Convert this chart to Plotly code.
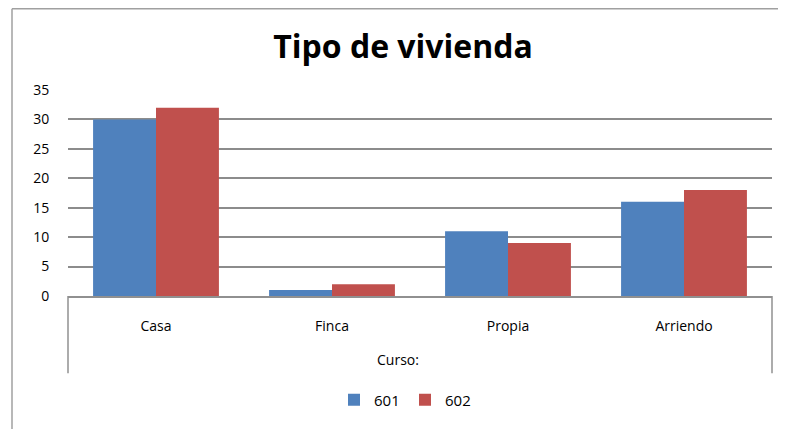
import plotly.graph_objects as go

categories = ["Casa", "Finca", "Propia", "Arriendo"]
serie_601 = [30, 1, 11, 16]
serie_602 = [32, 2, 9, 18]
series_names = ["601", "602"]
y_ticks = [0, 5, 10, 15, 20, 25, 30, 35]

OFF = 8  # page body margin
W, H = 786 - OFF, 429 - OFF
L, R, T, B = 68 - OFF, 14, 90 - OFF, 131
pw, ph = W - L - R, H - T - B

def px(x):
    return (x - OFF - L) / pw

def py(y):
    return (H - B - (y - OFF)) / ph

fig = go.Figure()
fig.add_trace(go.Bar(x=categories, y=serie_601, name=series_names[0],
                     marker=dict(color="#4F81BD", line=dict(width=0))))
fig.add_trace(go.Bar(x=categories, y=serie_602, name=series_names[1],
                     marker=dict(color="#C0504D", line=dict(width=0))))

shapes = [
    dict(type="line", xref="paper", yref="paper", x0=px(12), x1=px(12), y0=py(8), y1=py(440),
         line=dict(color="#A0A0A0", width=1.5)),
    dict(type="line", xref="paper", yref="paper", x0=px(12), x1=px(790), y0=py(8), y1=py(8),
         line=dict(color="#A0A0A0", width=1.5)),
    dict(type="line", xref="paper", yref="paper", x0=0, x1=0, y0=0, y1=py(376),
         line=dict(color="#909090", width=1.5)),
    dict(type="line", xref="paper", yref="paper", x0=1, x1=1, y0=0, y1=py(376),
         line=dict(color="#909090", width=1.5)),
]

fig.update_layout(
    width=W, height=H,
    margin=dict(l=L, r=R, t=T, b=B),
    paper_bgcolor="white", plot_bgcolor="white",
    barmode="group", bargap=0.285, bargroupgap=0,
    font=dict(family="Open Sans, Lato, sans-serif", color="#000000", size=13),
    title=dict(text="<b>Tipo de vivienda</b>", x=(403 - OFF) / W, xanchor="center",
               y=1 - (47 - OFF) / H, yanchor="middle",
               font=dict(size=32, family="Open Sans, sans-serif", color="#000000")),
    xaxis=dict(showline=True, linecolor="#909090", linewidth=1.5, showgrid=False,
               ticks="outside", ticklen=16, tickcolor="rgba(0,0,0,0)",
               tickfont=dict(size=14), zeroline=False),
    yaxis=dict(range=[0, 35], tickvals=y_ticks, showgrid=True, gridcolor="#8C8C8C",
               gridwidth=1.5, zeroline=False, showline=False,
               ticks="outside", ticklen=15, tickcolor="rgba(0,0,0,0)",
               tickfont=dict(size=14)),
    legend=dict(orientation="h", x=px(405), xanchor="center", y=py(403), yanchor="middle",
                font=dict(size=15), entrywidth=26, traceorder="normal"),
    shapes=shapes,
    annotations=[dict(text="Curso:", xref="paper", yref="paper", x=px(398), y=py(362),
                      showarrow=False, font=dict(size=14), xanchor="center", yanchor="middle")],
)

fig.write_html("out.html")
